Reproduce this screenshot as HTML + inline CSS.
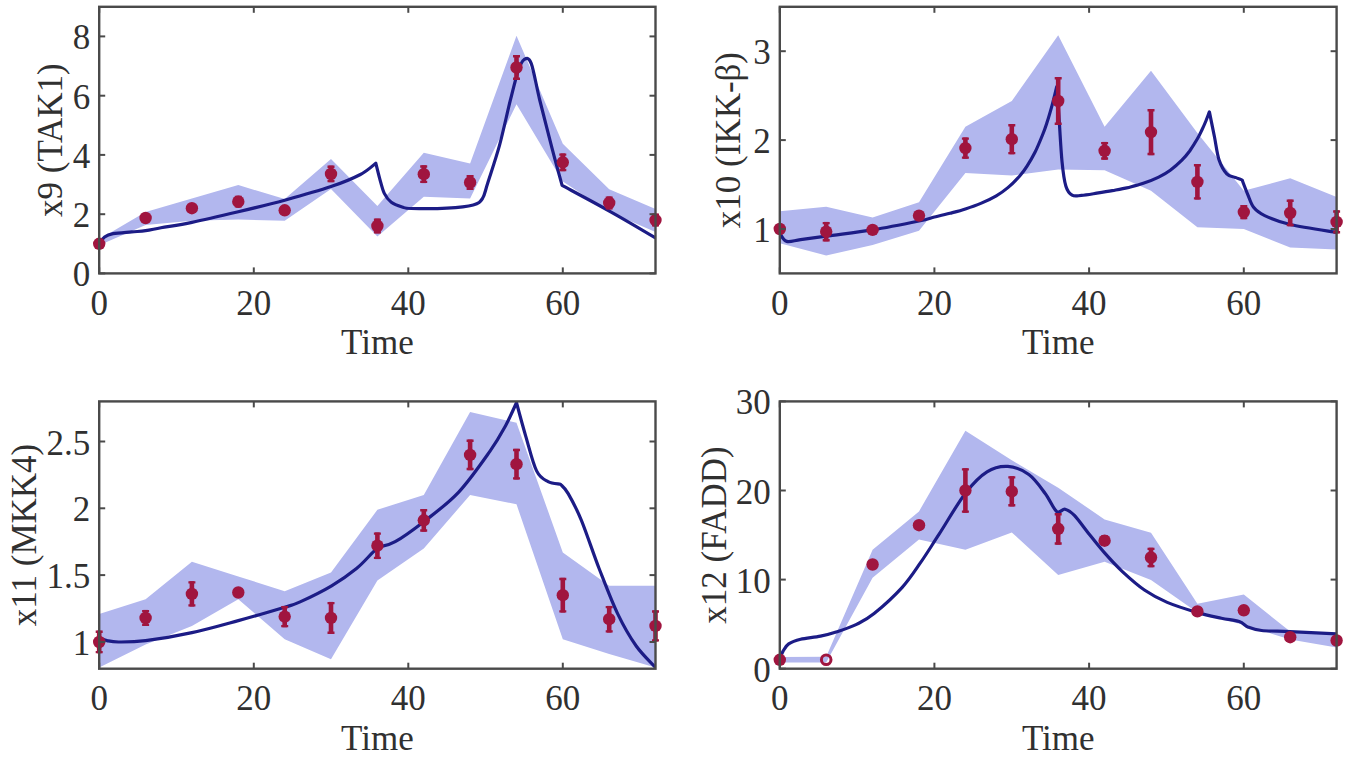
<!DOCTYPE html>
<html><head><meta charset="utf-8"><style>
html,body{margin:0;padding:0;background:#fff;width:1350px;height:758px;overflow:hidden}
svg{display:block}
text{font-family:"Liberation Serif", serif;font-size:35px;fill:#303030}
</style></head><body>
<svg width="1350" height="758" viewBox="0 0 1350 758">
<rect width="1350" height="758" fill="#fff"/>
<clipPath id="c0"><rect x="99.2" y="6.8" width="556.3" height="266.6"/></clipPath>
<polygon clip-path="url(#c0)" fill="#B2B7EE" points="99.2,239.3 145.6,212.1 191.9,198.5 238.3,185.1 284.7,199 331,159.1 377.4,205.9 423.8,152.8 470.1,163.5 516.5,35.8 562.8,143.7 609.2,189.3 655.5,209.1 655.5,231.9 609.2,212.1 562.8,181.6 516.5,104.3 470.1,198.5 423.8,196.7 377.4,236.4 331,189 284.7,220.7 238.3,219.5 191.9,220.7 145.6,225.1 99.2,245.3"/>
<path clip-path="url(#c0)" d="M99.2,244.4 C100.1,243.1 102.3,238.7 104.6,237 C107,235.2 108.6,234.5 113.1,233.7 C117.6,232.9 126.3,232.4 131.7,231.9 C137.1,231.4 140.7,231.4 145.6,230.7 C150.5,230.1 153.3,229.2 161,227.8 C168.8,226.4 179.1,225.1 191.9,222.4 C204.8,219.8 222.9,215.5 238.3,211.8 C253.8,208.1 269.2,204.4 284.7,200.2 C300.1,196 318.4,190.9 331,186.6 C343.7,182.3 352.9,178.4 360.4,174.5 C367.9,170.6 373.3,165.1 375.8,163.2 C376.5,165.8 378.3,173.6 379.7,178.6 C381.1,183.6 382.4,189.5 384.3,193.4 C386.3,197.4 388.3,200 391.3,202.3 C394.3,204.6 398.8,206 402.1,207 C405.5,208.1 403.9,208.3 411.4,208.5 C418.9,208.7 436.6,208.8 446.9,208.2 C457.2,207.6 467.3,206.6 473.2,205 C479.1,203.3 480,202.2 482.5,198.5 C484.9,194.7 485,191.3 487.9,182.5 C490.7,173.6 495.7,159.1 499.5,145.4 C503.2,131.8 507.2,112.7 510.3,100.4 C513.4,88.1 515.7,78.2 518,71.4 C520.3,64.6 522,60.9 524.2,59.5 C526.4,58.2 528.6,56.7 531.2,63.4 C533.7,70 536.2,85.4 539.6,99.5 C543.1,113.6 548.3,133.8 552,148.1 C555.7,162.4 560.4,179.2 562.1,185.4 C570.2,189.8 595.2,203 610.7,211.8 C626.3,220.5 648.1,233.5 655.5,237.9" fill="none" stroke="#1C1C86" stroke-width="3.2" stroke-linejoin="round"/>
<circle cx="99.2" cy="243.8" r="6.2" fill="#A0153F"/>
<circle cx="145.6" cy="218" r="6.2" fill="#A0153F"/>
<circle cx="191.9" cy="208.2" r="6.2" fill="#A0153F"/>
<path d="M238.3,195.8V207.6" stroke="#A0153F" stroke-width="4.6" fill="none"/>
<path d="M234.8,197h7M234.8,206.4h7" stroke="#A0153F" stroke-width="2.4" fill="none"/>
<circle cx="238.3" cy="201.7" r="6.2" fill="#A0153F"/>
<circle cx="284.7" cy="210.3" r="6.2" fill="#A0153F"/>
<path d="M331,165.6V182.2" stroke="#A0153F" stroke-width="4.6" fill="none"/>
<path d="M327.5,166.8h7M327.5,181h7" stroke="#A0153F" stroke-width="2.4" fill="none"/>
<circle cx="331" cy="173.9" r="6.2" fill="#A0153F"/>
<path d="M377.4,218.6V233.4" stroke="#A0153F" stroke-width="4.6" fill="none"/>
<path d="M373.9,219.8h7M373.9,232.2h7" stroke="#A0153F" stroke-width="2.4" fill="none"/>
<circle cx="377.4" cy="226" r="6.2" fill="#A0153F"/>
<path d="M423.8,165.3V183.1" stroke="#A0153F" stroke-width="4.6" fill="none"/>
<path d="M420.2,166.5h7M420.2,181.9h7" stroke="#A0153F" stroke-width="2.4" fill="none"/>
<circle cx="423.8" cy="174.2" r="6.2" fill="#A0153F"/>
<path d="M470.1,175.1V189.9" stroke="#A0153F" stroke-width="4.6" fill="none"/>
<path d="M466.6,176.3h7M466.6,188.7h7" stroke="#A0153F" stroke-width="2.4" fill="none"/>
<circle cx="470.1" cy="182.5" r="6.2" fill="#A0153F"/>
<path d="M516.5,55.1V80" stroke="#A0153F" stroke-width="4.6" fill="none"/>
<path d="M513,56.3h7M513,78.8h7" stroke="#A0153F" stroke-width="2.4" fill="none"/>
<circle cx="516.5" cy="67.5" r="6.2" fill="#A0153F"/>
<path d="M562.8,153.4V171.2" stroke="#A0153F" stroke-width="4.6" fill="none"/>
<path d="M559.3,154.6h7M559.3,170h7" stroke="#A0153F" stroke-width="2.4" fill="none"/>
<circle cx="562.8" cy="162.3" r="6.2" fill="#A0153F"/>
<path d="M609.2,196.4V209.4" stroke="#A0153F" stroke-width="4.6" fill="none"/>
<path d="M605.7,197.6h7M605.7,208.2h7" stroke="#A0153F" stroke-width="2.4" fill="none"/>
<circle cx="609.2" cy="202.9" r="6.2" fill="#A0153F"/>
<path d="M655.5,213.6V226.6" stroke="#A0153F" stroke-width="4.6" fill="none"/>
<path d="M652,214.8h7M652,225.4h7" stroke="#A0153F" stroke-width="2.4" fill="none"/>
<circle cx="655.5" cy="220.1" r="6.2" fill="#A0153F"/>
<rect x="99.2" y="6.8" width="556.3" height="266.6" fill="none" stroke="#4a4a4a" stroke-width="2.4"/>
<line x1="99.2" y1="273.4" x2="99.2" y2="267.4" stroke="#4a4a4a" stroke-width="2"/>
<line x1="99.2" y1="6.8" x2="99.2" y2="12.8" stroke="#4a4a4a" stroke-width="2"/>
<text x="99.2" y="314.9" text-anchor="middle">0</text>
<line x1="253.8" y1="273.4" x2="253.8" y2="267.4" stroke="#4a4a4a" stroke-width="2"/>
<line x1="253.8" y1="6.8" x2="253.8" y2="12.8" stroke="#4a4a4a" stroke-width="2"/>
<text x="253.8" y="314.9" text-anchor="middle">20</text>
<line x1="408.3" y1="273.4" x2="408.3" y2="267.4" stroke="#4a4a4a" stroke-width="2"/>
<line x1="408.3" y1="6.8" x2="408.3" y2="12.8" stroke="#4a4a4a" stroke-width="2"/>
<text x="408.3" y="314.9" text-anchor="middle">40</text>
<line x1="562.8" y1="273.4" x2="562.8" y2="267.4" stroke="#4a4a4a" stroke-width="2"/>
<line x1="562.8" y1="6.8" x2="562.8" y2="12.8" stroke="#4a4a4a" stroke-width="2"/>
<text x="562.8" y="314.9" text-anchor="middle">60</text>
<line x1="99.2" y1="273.4" x2="105.2" y2="273.4" stroke="#4a4a4a" stroke-width="2"/>
<line x1="655.5" y1="273.4" x2="649.5" y2="273.4" stroke="#4a4a4a" stroke-width="2"/>
<text x="90.2" y="286.4" text-anchor="end">0</text>
<line x1="99.2" y1="214.2" x2="105.2" y2="214.2" stroke="#4a4a4a" stroke-width="2"/>
<line x1="655.5" y1="214.2" x2="649.5" y2="214.2" stroke="#4a4a4a" stroke-width="2"/>
<text x="90.2" y="227.2" text-anchor="end">2</text>
<line x1="99.2" y1="154.9" x2="105.2" y2="154.9" stroke="#4a4a4a" stroke-width="2"/>
<line x1="655.5" y1="154.9" x2="649.5" y2="154.9" stroke="#4a4a4a" stroke-width="2"/>
<text x="90.2" y="167.9" text-anchor="end">4</text>
<line x1="99.2" y1="95.7" x2="105.2" y2="95.7" stroke="#4a4a4a" stroke-width="2"/>
<line x1="655.5" y1="95.7" x2="649.5" y2="95.7" stroke="#4a4a4a" stroke-width="2"/>
<text x="90.2" y="108.7" text-anchor="end">6</text>
<line x1="99.2" y1="36.4" x2="105.2" y2="36.4" stroke="#4a4a4a" stroke-width="2"/>
<line x1="655.5" y1="36.4" x2="649.5" y2="36.4" stroke="#4a4a4a" stroke-width="2"/>
<text x="90.2" y="49.4" text-anchor="end">8</text>
<text x="377.4" y="354.4" text-anchor="middle">Time</text>
<text transform="translate(62.1,140.1) rotate(-90)" text-anchor="middle">x9 (TAK1)</text>
<clipPath id="c64"><rect x="779.8" y="6.8" width="556.8" height="266.6"/></clipPath>
<polygon clip-path="url(#c64)" fill="#B2B7EE" points="779.8,211.2 826.2,206.8 872.6,217.4 919,202.3 965.4,126.8 1011.8,101 1058.2,35.2 1104.6,126.8 1151,70.8 1197.4,133 1243.8,190.8 1290.2,178.3 1336.6,197 1336.6,249.4 1290.2,247.6 1243.8,229 1197.4,227.2 1151,190.8 1104.6,170.3 1058.2,169.4 1011.8,175.6 965.4,173 919,230.7 872.6,245 826.2,255.6 779.8,243.2"/>
<path clip-path="url(#c64)" d="M779.8,233.4 C780.9,234.7 783.2,240.4 786.7,241.4 C790.2,242.4 794.1,240.5 800.6,239.6 C807.2,238.7 814.2,237.7 826.2,236.1 C838.2,234.4 857.1,232.4 872.6,229.9 C888,227.3 908.7,223.1 919,221 C929.3,218.8 929.3,218.3 934.4,217 C939.6,215.8 944.7,214.7 949.9,213.3 C955.1,211.9 960.2,210.6 965.4,208.9 C970.5,207.3 975.7,205.6 980.8,203.4 C986,201.2 991.8,198.4 996.3,195.8 C1000.8,193.1 1004,190.9 1007.9,187.6 C1011.8,184.4 1016.3,179.8 1019.5,176.2 C1022.7,172.5 1024.7,169.8 1027.2,165.8 C1029.8,161.8 1032.4,157.5 1035,152.3 C1037.6,147.1 1040.6,139.7 1042.7,134.5 C1044.8,129.4 1045.8,126.1 1047.4,121.3 C1048.9,116.5 1050.4,111.3 1052,105.6 C1053.5,99.9 1055.9,90.1 1056.6,87 C1057,91.3 1057.8,100.1 1058.7,112.6 C1059.6,125 1060.8,149.1 1062,161.4 C1063.2,173.7 1064.2,180.7 1065.9,186.3 C1067.6,191.9 1069.5,193.7 1072.1,195.2 C1074.7,196.7 1077.3,195.7 1081.4,195.4 C1085.5,195.1 1091.7,194 1096.8,193.2 C1102,192.4 1107.2,191.6 1112.3,190.7 C1117.5,189.7 1122.6,188.8 1127.8,187.6 C1132.9,186.3 1138.1,185.1 1143.3,183.3 C1148.4,181.6 1154.2,179.3 1158.7,177.1 C1163.2,174.9 1166.5,173 1170.3,170.2 C1174.2,167.4 1178.7,163.4 1181.9,160.2 C1185.1,157 1187.1,154.5 1189.7,151 C1192.2,147.4 1195.3,142.4 1197.4,138.8 C1199.5,135.3 1200.6,132.7 1202,129.8 C1203.4,126.8 1204.7,123.9 1205.9,121 C1207.1,118 1208.8,113.4 1209.4,111.9 C1210.2,116 1212.8,128.6 1214.4,136.5 C1216,144.5 1217,153.4 1219,159.7 C1221.1,165.9 1224.1,170.9 1226.8,173.9 C1229.5,176.8 1232.7,176.4 1235.3,177.4 C1237.9,178.5 1241.1,179.6 1242.2,180.1 C1243.1,182.5 1245.7,189.7 1247.7,194.3 C1249.6,198.9 1251,204.1 1253.8,207.6 C1256.7,211.2 1258.6,212.8 1264.7,215.6 C1270.7,218.5 1278.2,221.7 1290.2,224.5 C1302.2,227.3 1328.9,231.2 1336.6,232.5" fill="none" stroke="#1C1C86" stroke-width="3.2" stroke-linejoin="round"/>
<path d="M779.8,224.5V233.4" stroke="#A0153F" stroke-width="4.6" fill="none"/>
<path d="M776.3,225.7h7M776.3,232.2h7" stroke="#A0153F" stroke-width="2.4" fill="none"/>
<circle cx="779.8" cy="229" r="6.2" fill="#A0153F"/>
<path d="M826.2,221.9V241.4" stroke="#A0153F" stroke-width="4.6" fill="none"/>
<path d="M822.7,223.1h7M822.7,240.2h7" stroke="#A0153F" stroke-width="2.4" fill="none"/>
<circle cx="826.2" cy="231.6" r="6.2" fill="#A0153F"/>
<path d="M872.6,227.2V232.5" stroke="#A0153F" stroke-width="4.6" fill="none"/>
<path d="M869.1,228.4h7M869.1,231.3h7" stroke="#A0153F" stroke-width="2.4" fill="none"/>
<circle cx="872.6" cy="229.9" r="6.2" fill="#A0153F"/>
<path d="M919,211.2V220.1" stroke="#A0153F" stroke-width="4.6" fill="none"/>
<path d="M915.5,212.4h7M915.5,218.9h7" stroke="#A0153F" stroke-width="2.4" fill="none"/>
<circle cx="919" cy="215.6" r="6.2" fill="#A0153F"/>
<path d="M965.4,137.4V158.8" stroke="#A0153F" stroke-width="4.6" fill="none"/>
<path d="M961.9,138.6h7M961.9,157.6h7" stroke="#A0153F" stroke-width="2.4" fill="none"/>
<circle cx="965.4" cy="148.1" r="6.2" fill="#A0153F"/>
<path d="M1011.8,124.1V154.3" stroke="#A0153F" stroke-width="4.6" fill="none"/>
<path d="M1008.3,125.3h7M1008.3,153.1h7" stroke="#A0153F" stroke-width="2.4" fill="none"/>
<circle cx="1011.8" cy="139.2" r="6.2" fill="#A0153F"/>
<path d="M1058.2,77V125" stroke="#A0153F" stroke-width="4.6" fill="none"/>
<path d="M1054.7,78.2h7M1054.7,123.8h7" stroke="#A0153F" stroke-width="2.4" fill="none"/>
<circle cx="1058.2" cy="101" r="6.2" fill="#A0153F"/>
<path d="M1104.6,141.9V159.7" stroke="#A0153F" stroke-width="4.6" fill="none"/>
<path d="M1101.1,143.1h7M1101.1,158.5h7" stroke="#A0153F" stroke-width="2.4" fill="none"/>
<circle cx="1104.6" cy="150.8" r="6.2" fill="#A0153F"/>
<path d="M1151,109V155.2" stroke="#A0153F" stroke-width="4.6" fill="none"/>
<path d="M1147.5,110.2h7M1147.5,154h7" stroke="#A0153F" stroke-width="2.4" fill="none"/>
<circle cx="1151" cy="132.1" r="6.2" fill="#A0153F"/>
<path d="M1197.4,164.1V199.6" stroke="#A0153F" stroke-width="4.6" fill="none"/>
<path d="M1193.9,165.3h7M1193.9,198.4h7" stroke="#A0153F" stroke-width="2.4" fill="none"/>
<circle cx="1197.4" cy="181.9" r="6.2" fill="#A0153F"/>
<path d="M1243.8,205V219.2" stroke="#A0153F" stroke-width="4.6" fill="none"/>
<path d="M1240.3,206.2h7M1240.3,218h7" stroke="#A0153F" stroke-width="2.4" fill="none"/>
<circle cx="1243.8" cy="212.1" r="6.2" fill="#A0153F"/>
<path d="M1290.2,199.6V226.3" stroke="#A0153F" stroke-width="4.6" fill="none"/>
<path d="M1286.7,200.8h7M1286.7,225.1h7" stroke="#A0153F" stroke-width="2.4" fill="none"/>
<circle cx="1290.2" cy="213" r="6.2" fill="#A0153F"/>
<path d="M1336.6,210.3V233.4" stroke="#A0153F" stroke-width="4.6" fill="none"/>
<path d="M1333.1,211.5h7M1333.1,232.2h7" stroke="#A0153F" stroke-width="2.4" fill="none"/>
<circle cx="1336.6" cy="221.9" r="6.2" fill="#A0153F"/>
<rect x="779.8" y="6.8" width="556.8" height="266.6" fill="none" stroke="#4a4a4a" stroke-width="2.4"/>
<line x1="779.8" y1="273.4" x2="779.8" y2="267.4" stroke="#4a4a4a" stroke-width="2"/>
<line x1="779.8" y1="6.8" x2="779.8" y2="12.8" stroke="#4a4a4a" stroke-width="2"/>
<text x="779.8" y="314.9" text-anchor="middle">0</text>
<line x1="934.4" y1="273.4" x2="934.4" y2="267.4" stroke="#4a4a4a" stroke-width="2"/>
<line x1="934.4" y1="6.8" x2="934.4" y2="12.8" stroke="#4a4a4a" stroke-width="2"/>
<text x="934.4" y="314.9" text-anchor="middle">20</text>
<line x1="1089.1" y1="273.4" x2="1089.1" y2="267.4" stroke="#4a4a4a" stroke-width="2"/>
<line x1="1089.1" y1="6.8" x2="1089.1" y2="12.8" stroke="#4a4a4a" stroke-width="2"/>
<text x="1089.1" y="314.9" text-anchor="middle">40</text>
<line x1="1243.8" y1="273.4" x2="1243.8" y2="267.4" stroke="#4a4a4a" stroke-width="2"/>
<line x1="1243.8" y1="6.8" x2="1243.8" y2="12.8" stroke="#4a4a4a" stroke-width="2"/>
<text x="1243.8" y="314.9" text-anchor="middle">60</text>
<line x1="779.8" y1="229" x2="785.8" y2="229" stroke="#4a4a4a" stroke-width="2"/>
<line x1="1336.6" y1="229" x2="1330.6" y2="229" stroke="#4a4a4a" stroke-width="2"/>
<text x="770.8" y="242" text-anchor="end">1</text>
<line x1="779.8" y1="140.1" x2="785.8" y2="140.1" stroke="#4a4a4a" stroke-width="2"/>
<line x1="1336.6" y1="140.1" x2="1330.6" y2="140.1" stroke="#4a4a4a" stroke-width="2"/>
<text x="770.8" y="153.1" text-anchor="end">2</text>
<line x1="779.8" y1="51.2" x2="785.8" y2="51.2" stroke="#4a4a4a" stroke-width="2"/>
<line x1="1336.6" y1="51.2" x2="1330.6" y2="51.2" stroke="#4a4a4a" stroke-width="2"/>
<text x="770.8" y="64.2" text-anchor="end">3</text>
<text x="1058.2" y="354.4" text-anchor="middle">Time</text>
<text transform="translate(739.7,140.1) rotate(-90)" text-anchor="middle">x10 (IKK-β)</text>
<clipPath id="c130"><rect x="99.2" y="401.4" width="556.3" height="267.3"/></clipPath>
<polygon clip-path="url(#c130)" fill="#B2B7EE" points="99.2,613.9 145.6,599.2 191.9,561.8 238.3,576.5 284.7,591.2 331,572.5 377.4,509.7 423.8,495 470.1,412.1 516.5,422.8 562.8,552.4 609.2,585.8 655.5,585.8 655.5,667.4 609.2,654 562.8,639.3 516.5,504.3 470.1,495 423.8,548.4 377.4,580.5 331,659.3 284.7,639.3 238.3,599.2 191.9,625.9 145.6,644.6 99.2,667.4"/>
<path clip-path="url(#c130)" d="M99.2,638 C100.5,638.4 103.7,640 107,640.6 C110.2,641.3 112.1,642 118.5,642 C125,642 133.4,642.2 145.6,640.6 C157.8,639.1 176.5,636 191.9,632.6 C207.4,629.3 222.9,624.8 238.3,620.6 C253.8,616.4 274.4,610.3 284.7,607.2 C295,604.1 292.3,605.4 300.1,601.9 C307.9,598.3 322.2,591.4 331.6,585.8 C341,580.3 349.7,574 356.5,568.5 C363.4,562.9 369,556 372.8,552.4 C376.5,548.9 377.9,548 378.9,547.1 C381.6,546.2 387.7,546 395.2,541.7 C402.6,537.5 413.2,529.9 423.8,521.7 C434.3,513.4 447.4,504.1 458.5,492.3 C469.6,480.5 482.3,462 490.2,450.9 C498.1,439.7 501.3,433.5 505.7,425.5 C510,417.4 514.7,406.5 516.5,402.7 C518,408.3 522.4,424.8 525.7,436.1 C529.1,447.5 532.8,463.3 536.6,470.9 C540.3,478.5 544.2,479.4 548.1,481.6 C552.1,483.8 558.5,483.8 560.5,484.3 C561.8,485.8 564.8,487.6 568.2,493.6 C571.7,499.6 576.2,507.9 581.4,520.3 C586.5,532.8 593.1,552.9 599.1,568.5 C605.2,584.1 611.5,601 617.7,613.9 C623.9,626.8 629.9,637.1 636.2,646 C642.5,654.9 652.3,663.8 655.5,667.4" fill="none" stroke="#1C1C86" stroke-width="3.2" stroke-linejoin="round"/>
<path d="M99.2,630.6V653.3" stroke="#A0153F" stroke-width="4.6" fill="none"/>
<path d="M95.7,631.8h7M95.7,652.1h7" stroke="#A0153F" stroke-width="2.4" fill="none"/>
<circle cx="99.2" cy="642" r="6.2" fill="#A0153F"/>
<path d="M145.6,609.9V625.9" stroke="#A0153F" stroke-width="4.6" fill="none"/>
<path d="M142.1,611.1h7M142.1,624.7h7" stroke="#A0153F" stroke-width="2.4" fill="none"/>
<circle cx="145.6" cy="617.9" r="6.2" fill="#A0153F"/>
<path d="M191.9,581.2V606.6" stroke="#A0153F" stroke-width="4.6" fill="none"/>
<path d="M188.4,582.4h7M188.4,605.4h7" stroke="#A0153F" stroke-width="2.4" fill="none"/>
<circle cx="191.9" cy="593.9" r="6.2" fill="#A0153F"/>
<circle cx="238.3" cy="592.5" r="6.2" fill="#A0153F"/>
<path d="M284.7,605.9V627.3" stroke="#A0153F" stroke-width="4.6" fill="none"/>
<path d="M281.2,607.1h7M281.2,626.1h7" stroke="#A0153F" stroke-width="2.4" fill="none"/>
<circle cx="284.7" cy="616.6" r="6.2" fill="#A0153F"/>
<path d="M331,601.9V634" stroke="#A0153F" stroke-width="4.6" fill="none"/>
<path d="M327.5,603.1h7M327.5,632.8h7" stroke="#A0153F" stroke-width="2.4" fill="none"/>
<circle cx="331" cy="617.9" r="6.2" fill="#A0153F"/>
<path d="M377.4,532.4V559.1" stroke="#A0153F" stroke-width="4.6" fill="none"/>
<path d="M373.9,533.6h7M373.9,557.9h7" stroke="#A0153F" stroke-width="2.4" fill="none"/>
<circle cx="377.4" cy="545.7" r="6.2" fill="#A0153F"/>
<path d="M423.8,509V531.7" stroke="#A0153F" stroke-width="4.6" fill="none"/>
<path d="M420.2,510.2h7M420.2,530.5h7" stroke="#A0153F" stroke-width="2.4" fill="none"/>
<circle cx="423.8" cy="520.3" r="6.2" fill="#A0153F"/>
<path d="M470.1,439.5V470.2" stroke="#A0153F" stroke-width="4.6" fill="none"/>
<path d="M466.6,440.7h7M466.6,469h7" stroke="#A0153F" stroke-width="2.4" fill="none"/>
<circle cx="470.1" cy="454.9" r="6.2" fill="#A0153F"/>
<path d="M516.5,448.8V479.6" stroke="#A0153F" stroke-width="4.6" fill="none"/>
<path d="M513,450h7M513,478.4h7" stroke="#A0153F" stroke-width="2.4" fill="none"/>
<circle cx="516.5" cy="464.2" r="6.2" fill="#A0153F"/>
<path d="M562.8,577.8V612.6" stroke="#A0153F" stroke-width="4.6" fill="none"/>
<path d="M559.3,579h7M559.3,611.4h7" stroke="#A0153F" stroke-width="2.4" fill="none"/>
<circle cx="562.8" cy="595.2" r="6.2" fill="#A0153F"/>
<path d="M609.2,605.9V632.6" stroke="#A0153F" stroke-width="4.6" fill="none"/>
<path d="M605.7,607.1h7M605.7,631.4h7" stroke="#A0153F" stroke-width="2.4" fill="none"/>
<circle cx="609.2" cy="619.2" r="6.2" fill="#A0153F"/>
<path d="M655.5,610.3V641.6" stroke="#A0153F" stroke-width="4.6" fill="none"/>
<path d="M652,611.5h7M652,640.4h7" stroke="#A0153F" stroke-width="2.4" fill="none"/>
<circle cx="655.5" cy="625.9" r="6.2" fill="#A0153F"/>
<rect x="99.2" y="401.4" width="556.3" height="267.3" fill="none" stroke="#4a4a4a" stroke-width="2.4"/>
<line x1="99.2" y1="668.7" x2="99.2" y2="662.7" stroke="#4a4a4a" stroke-width="2"/>
<line x1="99.2" y1="401.4" x2="99.2" y2="407.4" stroke="#4a4a4a" stroke-width="2"/>
<text x="99.2" y="710.2" text-anchor="middle">0</text>
<line x1="253.8" y1="668.7" x2="253.8" y2="662.7" stroke="#4a4a4a" stroke-width="2"/>
<line x1="253.8" y1="401.4" x2="253.8" y2="407.4" stroke="#4a4a4a" stroke-width="2"/>
<text x="253.8" y="710.2" text-anchor="middle">20</text>
<line x1="408.3" y1="668.7" x2="408.3" y2="662.7" stroke="#4a4a4a" stroke-width="2"/>
<line x1="408.3" y1="401.4" x2="408.3" y2="407.4" stroke="#4a4a4a" stroke-width="2"/>
<text x="408.3" y="710.2" text-anchor="middle">40</text>
<line x1="562.8" y1="668.7" x2="562.8" y2="662.7" stroke="#4a4a4a" stroke-width="2"/>
<line x1="562.8" y1="401.4" x2="562.8" y2="407.4" stroke="#4a4a4a" stroke-width="2"/>
<text x="562.8" y="710.2" text-anchor="middle">60</text>
<line x1="99.2" y1="642" x2="105.2" y2="642" stroke="#4a4a4a" stroke-width="2"/>
<line x1="655.5" y1="642" x2="649.5" y2="642" stroke="#4a4a4a" stroke-width="2"/>
<text x="90.2" y="655" text-anchor="end">1</text>
<line x1="99.2" y1="575.1" x2="105.2" y2="575.1" stroke="#4a4a4a" stroke-width="2"/>
<line x1="655.5" y1="575.1" x2="649.5" y2="575.1" stroke="#4a4a4a" stroke-width="2"/>
<text x="90.2" y="588.1" text-anchor="end">1.5</text>
<line x1="99.2" y1="508.3" x2="105.2" y2="508.3" stroke="#4a4a4a" stroke-width="2"/>
<line x1="655.5" y1="508.3" x2="649.5" y2="508.3" stroke="#4a4a4a" stroke-width="2"/>
<text x="90.2" y="521.3" text-anchor="end">2</text>
<line x1="99.2" y1="441.5" x2="105.2" y2="441.5" stroke="#4a4a4a" stroke-width="2"/>
<line x1="655.5" y1="441.5" x2="649.5" y2="441.5" stroke="#4a4a4a" stroke-width="2"/>
<text x="90.2" y="454.5" text-anchor="end">2.5</text>
<text x="377.4" y="749.7" text-anchor="middle">Time</text>
<text transform="translate(35.5,535) rotate(-90)" text-anchor="middle">x11 (MKK4)</text>
<clipPath id="c197"><rect x="779.8" y="401.4" width="556.8" height="267.3"/></clipPath>
<polygon clip-path="url(#c197)" fill="#B2B7EE" points="779.8,657.1 826.2,656.7 872.6,549.8 919,511.4 965.4,430.8 1011.8,460.2 1058.2,487.8 1104.6,519.4 1151,532.7 1197.4,603.7 1243.8,594.5 1290.2,631.6 1336.6,634.9 1336.6,647.4 1290.2,639.5 1243.8,624.9 1197.4,612.6 1151,580 1104.6,561.8 1058.2,575.1 1011.8,532.4 965.4,549.8 919,539.5 872.6,577.8 826.2,662.5 779.8,662.5"/>
<path clip-path="url(#c197)" d="M779.8,659.3 C780.3,657.9 781.7,653.4 783.2,650.9 C784.7,648.3 785.8,645.9 788.7,643.9 C791.6,642 795.3,640.6 800.6,639.3 C805.9,638 814.5,637.4 820.5,636.1 C826.6,634.8 830.9,633.7 837,631.7 C843.1,629.7 850.9,627.2 857.1,624.1 C863.3,621.1 866.6,619.7 874.1,613.6 C881.6,607.5 894.2,596.1 902,587.6 C909.7,579.1 914.3,571.6 920.5,562.7 C926.7,553.8 931.6,545.7 939.1,534.2 C946.6,522.6 957.4,503.6 965.4,493.2 C973.4,482.8 979.9,476.2 987,471.8 C994.1,467.3 1000.9,466 1007.9,466.4 C1014.9,466.9 1022.6,470 1028.8,474.5 C1035,478.9 1040.4,487 1045,493.2 C1049.7,499.3 1053.3,508.8 1056.6,511.4 C1060,514.1 1062.2,508.5 1065.1,509.2 C1068.1,509.9 1070.3,511.1 1074.4,515.4 C1078.5,519.8 1084.9,528.8 1089.9,535 C1094.9,541.3 1099.2,546.8 1104.6,552.9 C1110,559 1115.7,565.3 1122.4,571.6 C1129.1,577.8 1137.3,585.2 1144.8,590.3 C1152.3,595.4 1158.5,598.7 1167.2,602.4 C1176,606.1 1188.4,609.9 1197.4,612.6 C1206.4,615.2 1214.4,616.7 1221.4,618.2 C1228.3,619.7 1234.6,620.1 1239.2,621.6 C1243.7,623.1 1244.7,625.7 1248.4,627.2 C1252.2,628.7 1254.6,629.7 1261.6,630.5 C1268.5,631.2 1277.7,631.1 1290.2,631.6 C1302.7,632.2 1328.9,633.5 1336.6,633.9" fill="none" stroke="#1C1C86" stroke-width="3.2" stroke-linejoin="round"/>
<path d="M779.8,656.2V663.4" stroke="#A0153F" stroke-width="4.6" fill="none"/>
<path d="M776.3,657.4h7M776.3,662.2h7" stroke="#A0153F" stroke-width="2.4" fill="none"/>
<circle cx="779.8" cy="659.8" r="6.2" fill="#A0153F"/>
<circle cx="826.2" cy="659.8" r="4.8" fill="none" stroke="#A0153F" stroke-width="3"/>
<path d="M872.6,560.9V568" stroke="#A0153F" stroke-width="4.6" fill="none"/>
<path d="M869.1,562.1h7M869.1,566.8h7" stroke="#A0153F" stroke-width="2.4" fill="none"/>
<circle cx="872.6" cy="564.5" r="6.2" fill="#A0153F"/>
<circle cx="919" cy="525.2" r="6.2" fill="#A0153F"/>
<path d="M965.4,468.2V512.8" stroke="#A0153F" stroke-width="4.6" fill="none"/>
<path d="M961.9,469.4h7M961.9,511.6h7" stroke="#A0153F" stroke-width="2.4" fill="none"/>
<circle cx="965.4" cy="490.5" r="6.2" fill="#A0153F"/>
<path d="M1011.8,476.2V506.5" stroke="#A0153F" stroke-width="4.6" fill="none"/>
<path d="M1008.3,477.4h7M1008.3,505.3h7" stroke="#A0153F" stroke-width="2.4" fill="none"/>
<circle cx="1011.8" cy="491.4" r="6.2" fill="#A0153F"/>
<path d="M1058.2,513V544.7" stroke="#A0153F" stroke-width="4.6" fill="none"/>
<path d="M1054.7,514.2h7M1054.7,543.5h7" stroke="#A0153F" stroke-width="2.4" fill="none"/>
<circle cx="1058.2" cy="528.8" r="6.2" fill="#A0153F"/>
<path d="M1104.6,535.3V546" stroke="#A0153F" stroke-width="4.6" fill="none"/>
<path d="M1101.1,536.5h7M1101.1,544.8h7" stroke="#A0153F" stroke-width="2.4" fill="none"/>
<circle cx="1104.6" cy="540.7" r="6.2" fill="#A0153F"/>
<path d="M1151,547.7V567.3" stroke="#A0153F" stroke-width="4.6" fill="none"/>
<path d="M1147.5,548.9h7M1147.5,566.1h7" stroke="#A0153F" stroke-width="2.4" fill="none"/>
<circle cx="1151" cy="557.5" r="6.2" fill="#A0153F"/>
<circle cx="1197.4" cy="611.4" r="6.2" fill="#A0153F"/>
<path d="M1243.8,605.4V615.2" stroke="#A0153F" stroke-width="4.6" fill="none"/>
<path d="M1240.3,606.6h7M1240.3,614h7" stroke="#A0153F" stroke-width="2.4" fill="none"/>
<circle cx="1243.8" cy="610.3" r="6.2" fill="#A0153F"/>
<circle cx="1290.2" cy="637.2" r="6.2" fill="#A0153F"/>
<circle cx="1336.6" cy="640.5" r="6.2" fill="#A0153F"/>
<rect x="779.8" y="401.4" width="556.8" height="267.3" fill="none" stroke="#4a4a4a" stroke-width="2.4"/>
<line x1="779.8" y1="668.7" x2="779.8" y2="662.7" stroke="#4a4a4a" stroke-width="2"/>
<line x1="779.8" y1="401.4" x2="779.8" y2="407.4" stroke="#4a4a4a" stroke-width="2"/>
<text x="779.8" y="710.2" text-anchor="middle">0</text>
<line x1="934.4" y1="668.7" x2="934.4" y2="662.7" stroke="#4a4a4a" stroke-width="2"/>
<line x1="934.4" y1="401.4" x2="934.4" y2="407.4" stroke="#4a4a4a" stroke-width="2"/>
<text x="934.4" y="710.2" text-anchor="middle">20</text>
<line x1="1089.1" y1="668.7" x2="1089.1" y2="662.7" stroke="#4a4a4a" stroke-width="2"/>
<line x1="1089.1" y1="401.4" x2="1089.1" y2="407.4" stroke="#4a4a4a" stroke-width="2"/>
<text x="1089.1" y="710.2" text-anchor="middle">40</text>
<line x1="1243.8" y1="668.7" x2="1243.8" y2="662.7" stroke="#4a4a4a" stroke-width="2"/>
<line x1="1243.8" y1="401.4" x2="1243.8" y2="407.4" stroke="#4a4a4a" stroke-width="2"/>
<text x="1243.8" y="710.2" text-anchor="middle">60</text>
<line x1="779.8" y1="668.7" x2="785.8" y2="668.7" stroke="#4a4a4a" stroke-width="2"/>
<line x1="1336.6" y1="668.7" x2="1330.6" y2="668.7" stroke="#4a4a4a" stroke-width="2"/>
<text x="770.8" y="681.7" text-anchor="end">0</text>
<line x1="779.8" y1="579.6" x2="785.8" y2="579.6" stroke="#4a4a4a" stroke-width="2"/>
<line x1="1336.6" y1="579.6" x2="1330.6" y2="579.6" stroke="#4a4a4a" stroke-width="2"/>
<text x="770.8" y="592.6" text-anchor="end">10</text>
<line x1="779.8" y1="490.5" x2="785.8" y2="490.5" stroke="#4a4a4a" stroke-width="2"/>
<line x1="1336.6" y1="490.5" x2="1330.6" y2="490.5" stroke="#4a4a4a" stroke-width="2"/>
<text x="770.8" y="503.5" text-anchor="end">20</text>
<line x1="779.8" y1="401.4" x2="785.8" y2="401.4" stroke="#4a4a4a" stroke-width="2"/>
<line x1="1336.6" y1="401.4" x2="1330.6" y2="401.4" stroke="#4a4a4a" stroke-width="2"/>
<text x="770.8" y="414.4" text-anchor="end">30</text>
<text x="1058.2" y="749.7" text-anchor="middle">Time</text>
<text transform="translate(725.7,535) rotate(-90)" text-anchor="middle">x12 (FADD)</text>
</svg></body></html>
